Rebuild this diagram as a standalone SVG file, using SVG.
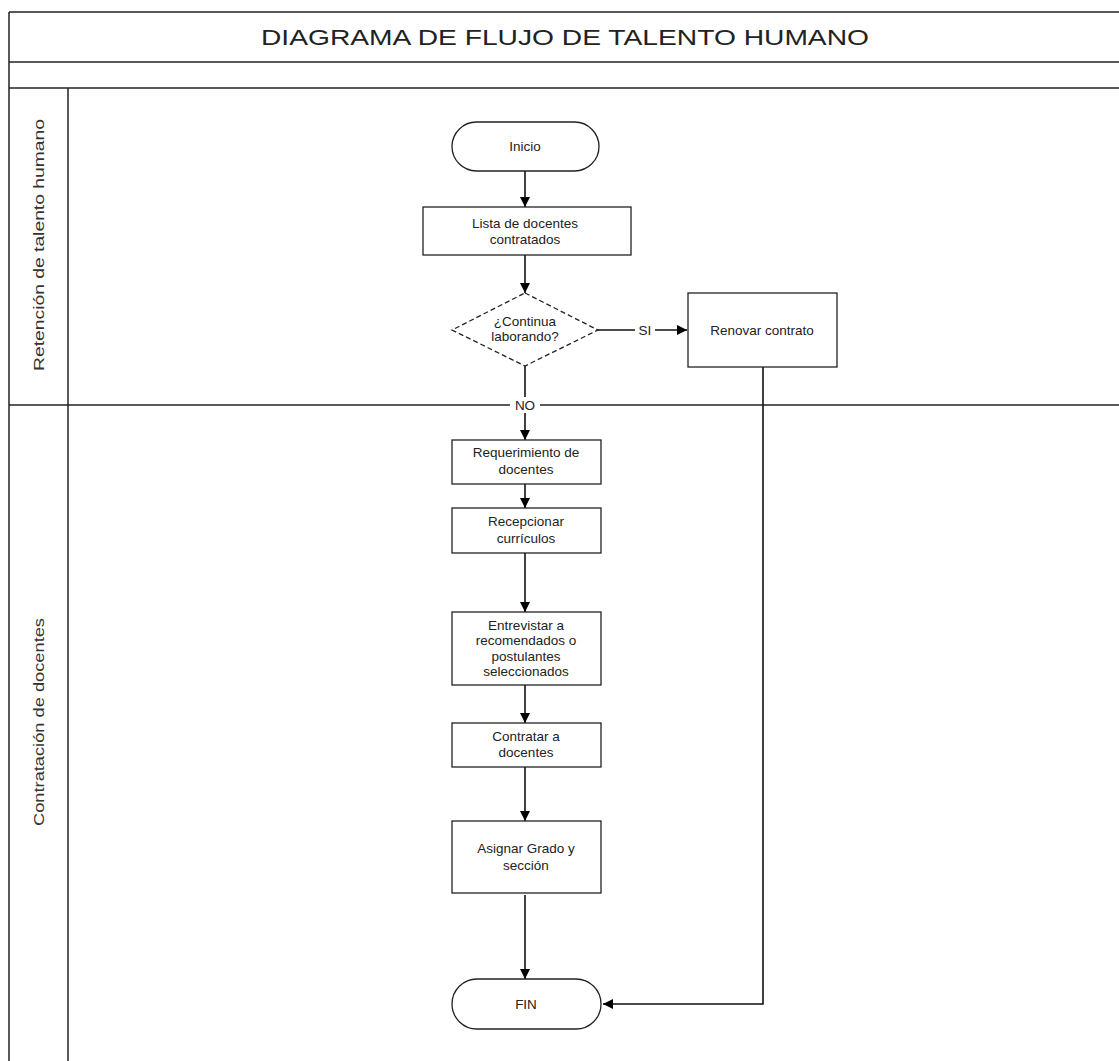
<svg xmlns="http://www.w3.org/2000/svg" width="1119" height="1061" viewBox="0 0 1119 1061">
<defs>
<marker id="arr" viewBox="0 0 10 10" refX="10" refY="5" markerWidth="10" markerHeight="10" markerUnits="userSpaceOnUse" orient="auto">
<path d="M0,0 L10,5 L0,10 z" fill="#000"/>
</marker>
</defs>
<style>
.frame{fill:none;stroke:#222;stroke-width:1.5}
.box{fill:#fff;stroke:#222;stroke-width:1.3}
.dash{fill:#fff;stroke:#222;stroke-width:1.3;stroke-dasharray:5 3}
.conn{fill:none;stroke:#111;stroke-width:1.6}
.t{font-family:"Liberation Sans",Arial,sans-serif;font-size:13.5px;fill:#222;text-anchor:middle}
.lane{font-family:"Liberation Sans",Arial,sans-serif;font-size:14px;fill:#333;text-anchor:middle}
.title{font-family:"Liberation Sans",Arial,sans-serif;font-size:22px;fill:#222;text-anchor:middle}
</style>
<rect width="1119" height="1061" fill="#fff"/>
<g id="frame">
<line class="frame" x1="9" y1="12" x2="1119" y2="12"/>
<line class="frame" x1="9" y1="12" x2="9" y2="1061"/>
<line class="frame" x1="9" y1="62" x2="1119" y2="62" stroke-width="1"/>
<line class="frame" x1="9" y1="88" x2="1119" y2="88" stroke-width="2"/>
<line class="frame" x1="68" y1="88" x2="68" y2="1061"/>
<line class="frame" x1="9" y1="405" x2="1119" y2="405"/>
<text class="title" x="565" y="45" textLength="608" lengthAdjust="spacingAndGlyphs">DIAGRAMA DE FLUJO DE TALENTO HUMANO</text>
</g>
<g id="lane-retencion">
<text class="lane" transform="translate(44,245) rotate(-90)" textLength="252" lengthAdjust="spacingAndGlyphs">Retención de talento humano</text>
</g>
<g id="lane-contratacion">
<text class="lane" transform="translate(44,722) rotate(-90)" textLength="208" lengthAdjust="spacingAndGlyphs">Contratación de docentes</text>
</g>
<g id="connectors">
<line class="conn" x1="525" y1="171" x2="525" y2="207" marker-end="url(#arr)"/>
<line class="conn" x1="525" y1="255" x2="525" y2="293" marker-end="url(#arr)"/>
<line class="conn" x1="598" y1="330" x2="687" y2="330" marker-end="url(#arr)"/>
<line class="conn" x1="525" y1="366" x2="525" y2="440" marker-end="url(#arr)"/>
<line class="conn" x1="525" y1="484" x2="525" y2="508" marker-end="url(#arr)"/>
<line class="conn" x1="525" y1="553" x2="525" y2="612" marker-end="url(#arr)"/>
<line class="conn" x1="525" y1="685" x2="525" y2="723" marker-end="url(#arr)"/>
<line class="conn" x1="525" y1="767" x2="525" y2="821" marker-end="url(#arr)"/>
<line class="conn" x1="525" y1="895" x2="525" y2="979" marker-end="url(#arr)"/>
<path class="conn" d="M763,367 L763,1004 L603,1004" marker-end="url(#arr)"/>
<rect x="635" y="322" width="20" height="16" fill="#fff"/>
<text class="t" x="645" y="335">SI</text>
<rect x="510" y="397" width="30" height="16" fill="#fff"/>
<text class="t" x="525" y="410">NO</text>
</g>
<g id="inicio">
<rect class="box" x="452" y="122" width="147" height="49" rx="24.5"/>
<text class="t" x="525" y="151">Inicio</text>
</g>
<g id="lista">
<rect class="box" x="423" y="207" width="208" height="48"/>
<text class="t" x="525" y="228">Lista de docentes</text>
<text class="t" x="525" y="244">contratados</text>
</g>
<g id="decision">
<polygon class="dash" points="525,293 598,330 525,366 452,330"/>
<text class="t" x="525" y="326">¿Continua</text>
<text class="t" x="525" y="341">laborando?</text>
</g>
<g id="renovar">
<rect class="box" x="688" y="293" width="149" height="74"/>
<text class="t" x="762" y="335">Renovar contrato</text>
</g>
<g id="requerimiento">
<rect class="box" x="452" y="440" width="149" height="44"/>
<text class="t" x="526" y="457">Requerimiento de</text>
<text class="t" x="526" y="474">docentes</text>
</g>
<g id="recepcionar">
<rect class="box" x="452" y="508" width="149" height="45"/>
<text class="t" x="526" y="526">Recepcionar</text>
<text class="t" x="526" y="543">currículos</text>
</g>
<g id="entrevistar">
<rect class="box" x="452" y="612" width="149" height="73"/>
<text class="t" x="526" y="630">Entrevistar a</text>
<text class="t" x="526" y="645">recomendados o</text>
<text class="t" x="526" y="661">postulantes</text>
<text class="t" x="526" y="676">seleccionados</text>
</g>
<g id="contratar">
<rect class="box" x="452" y="723" width="149" height="44"/>
<text class="t" x="526" y="741">Contratar a</text>
<text class="t" x="526" y="757">docentes</text>
</g>
<g id="asignar">
<rect class="box" x="452" y="821" width="149" height="72"/>
<text class="t" x="526" y="853">Asignar Grado y</text>
<text class="t" x="526" y="870">sección</text>
</g>
<g id="fin">
<rect class="box" x="452" y="979" width="149" height="50" rx="25"/>
<text class="t" x="526" y="1009">FIN</text>
</g>
</svg>
